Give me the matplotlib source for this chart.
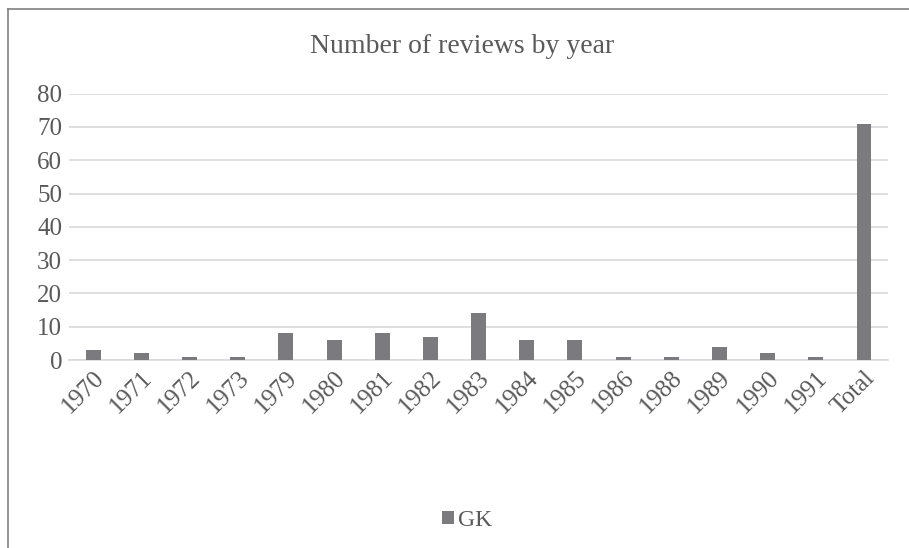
import matplotlib
matplotlib.use("Agg")
import matplotlib.pyplot as plt
from matplotlib.lines import Line2D

# dados
anos = ["1970", "1971", "1972", "1973", "1979", "1980", "1981", "1982", "1983",
        "1984", "1985", "1986", "1988", "1989", "1990", "1991", "Total"]
gk = [3, 2, 1, 1, 8, 6, 8, 7, 14, 6, 6, 1, 1, 4, 2, 1, 71]

plt.rcParams['font.family'] = ['Liberation Serif', 'DejaVu Serif']
texto = '#595959'
barra = '#7b7b7f'

fig = plt.figure(figsize=(9.09, 5.48), dpi=100)
ax = fig.add_axes([0.076, 0.343, 0.901, 0.486])

x = range(len(anos))
ax.bar(x, gk, width=0.31, color=barra, label='GK', zorder=3)

ax.set_ylim(0, 80)
ax.set_yticks(range(0, 81, 10))
ax.set_xlim(-0.5, len(anos) - 0.5)
ax.set_xticks(list(x))
ax.set_xticklabels(anos, rotation=45, ha='right', rotation_mode='anchor')
ax.tick_params(axis='both', length=0, colors=texto, labelsize=18)
ax.tick_params(axis='y', pad=5)
ax.tick_params(axis='x', pad=5)
ax.grid(axis='y', color='#d9d9d9', linewidth=1.2, zorder=0)
for lado in ['top', 'right', 'left']:
    ax.spines[lado].set_visible(False)
ax.spines['bottom'].set_color('#d9d9d9')
ax.spines['bottom'].set_linewidth(1.2)

fig.text(0.508, 0.915, 'Number of reviews by year', ha='center', va='center',
         fontsize=20, color=texto)

leg = fig.legend(loc='center', bbox_to_anchor=(0.514, 0.05), frameon=False,
                 fontsize=17, handlelength=0.5, handleheight=0.5, handletextpad=0.15,
                 labelcolor=texto)

# moldura do gráfico (esquerda e topo)
fig.add_artist(Line2D([0.009, 0.009], [0, 0.984], color='#808080', linewidth=1.2,
                      transform=fig.transFigure))
fig.add_artist(Line2D([0.009, 1.0], [0.984, 0.984], color='#808080', linewidth=1.2,
                      transform=fig.transFigure))

fig.savefig('out.png', dpi=100)
